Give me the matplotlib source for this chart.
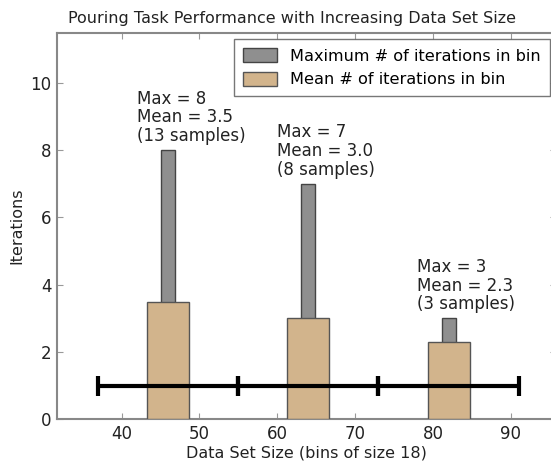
import matplotlib
matplotlib.use("Agg")
import matplotlib.pyplot as plt

# bin centres (bins of size 18 starting at 37)
bin_centers = [46, 64, 82]
bin_half = 9
max_iters = [8, 7, 3]
mean_iters = [3.5, 3.0, 2.3]
n_samples = [13, 8, 3]

fig = plt.figure(figsize=(5.51, 4.63), dpi=100)
ax = fig.add_axes([0.1034, 0.0944, 0.9056, 0.8354])

ax.bar(bin_centers, max_iters, width=1.8, color='#8f8f8f', edgecolor='#444444',
       linewidth=1, label='Maximum # of iterations in bin', zorder=2)
ax.bar(bin_centers, mean_iters, width=5.4, color='#d2b48c', edgecolor='#555555',
       linewidth=1, label='Mean # of iterations in bin', zorder=3)
ax.errorbar(bin_centers, [1] * len(bin_centers), xerr=bin_half, fmt='none',
            ecolor='black', elinewidth=3, capsize=7.5, capthick=3, zorder=4)

for c, mx, mn, n in zip(bin_centers, max_iters, mean_iters, n_samples):
    ax.text(c - 4, mx + 0.15, 'Max = {}\nMean = {:.1f}\n({} samples)'.format(mx, mn, n),
            ha='left', va='bottom', fontsize=12, color='#222222', linespacing=1.05)

ax.set_xlim(31.7, 95.8)
ax.set_ylim(0, 11.5)
ax.set_xticks([40, 50, 60, 70, 80, 90])
ax.set_yticks([0, 2, 4, 6, 8, 10])
ax.tick_params(direction='in', length=4, color='#999999', labelsize=12,
               labelcolor='#222222', top=True, right=True, pad=4)
for s in ax.spines.values():
    s.set_color('#888888')
    s.set_linewidth(1.5)

ax.set_xlabel('Data Set Size (bins of size 18)', fontsize=11.5, color='#222222', labelpad=2)
ax.set_ylabel('Iterations', fontsize=11.5, color='#222222')
ax.set_title('Pouring Task Performance with Increasing Data Set Size',
             fontsize=11.5, color='#222222', x=0.472, pad=7)

leg = ax.legend(loc='upper right', fontsize=11.6, fancybox=False, borderaxespad=0.4,
                handlelength=2.1, handleheight=1.0, labelspacing=0.5,
                borderpad=0.55, handletextpad=0.8)
leg.get_frame().set_edgecolor('#555555')

fig.savefig('out.png', dpi=100)
